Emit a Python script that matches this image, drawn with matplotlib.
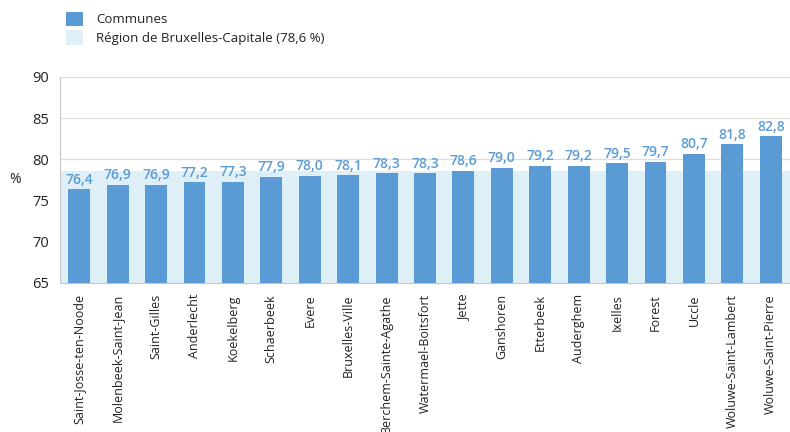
import matplotlib
matplotlib.use("Agg")
import matplotlib.pyplot as plt
from matplotlib.patches import Patch

communes = ["Saint-Josse-ten-Noode", "Molenbeek-Saint-Jean", "Saint-Gilles", "Anderlecht",
            "Koekelberg", "Schaerbeek", "Evere", "Bruxelles-Ville", "Berchem-Sainte-Agathe",
            "Watermael-Boitsfort", "Jette", "Ganshoren", "Etterbeek", "Auderghem", "Ixelles",
            "Forest", "Uccle", "Woluwe-Saint-Lambert", "Woluwe-Saint-Pierre"]
values = [76.4, 76.9, 76.9, 77.2, 77.3, 77.9, 78.0, 78.1, 78.3, 78.3, 78.6, 79.0,
          79.2, 79.2, 79.5, 79.7, 80.7, 81.8, 82.8]
region_value = 78.6
yticks = [65, 70, 75, 80, 85, 90]

bar_color = "#5b9bd5"
band_color = "#deeff7"
label_color = "#5b9bd5"
text_color = "#222222"

plt.rcParams['font.family'] = ['Open Sans', 'DejaVu Sans']

fig = plt.figure(figsize=(7.9, 4.32), dpi=100)
ax = fig.add_axes([0.076, 0.345, 0.924, 0.477])

x = list(range(len(values)))
ax.axhspan(65, region_value, color=band_color, zorder=1, lw=0)
ax.bar(x, [v - 65 for v in values], bottom=65, width=0.57, color=bar_color, zorder=3)
for xi, v in zip(x, values):
    ax.text(xi, v + 0.3, f"{v:.1f}".replace(".", ","), ha="center", va="bottom",
            color=label_color, fontsize=10, fontweight="semibold", zorder=4)

ax.set_xlim(-0.5, len(values) - 0.5)
ax.set_ylim(65, 90)
ax.set_yticks(yticks)
ax.set_yticklabels([str(t) for t in yticks], fontsize=10.5, color=text_color)
ax.grid(axis="y", color="#dddddd", lw=0.9, zorder=0)
ax.set_axisbelow(True)
ax.set_xticks(x)
ax.set_xticklabels(communes, rotation=90, fontsize=9, color=text_color)
ax.tick_params(axis="both", length=0)
ax.tick_params(axis="y", pad=8)
ax.tick_params(axis="x", pad=8)
for s in ["top", "right"]:
    ax.spines[s].set_visible(False)
ax.spines["left"].set_color("#c8c8c8")
ax.spines["bottom"].set_color("#c8c8c8")
ax.set_ylabel("%", rotation=0, fontsize=10, color=text_color, labelpad=12, va="center")

handles = [Patch(facecolor=bar_color, edgecolor="none", label="Communes"),
           Patch(facecolor=band_color, edgecolor="none", label="Région de Bruxelles-Capitale (78,6 %)")]
fig.legend(handles=handles, loc="upper left", bbox_to_anchor=(0.068, 1.0), frameon=False,
           fontsize=9.5, handlelength=1.3, handleheight=1.3, handletextpad=1.0, labelspacing=0.3,
           labelcolor=text_color)

fig.savefig("out.png", dpi=100)
